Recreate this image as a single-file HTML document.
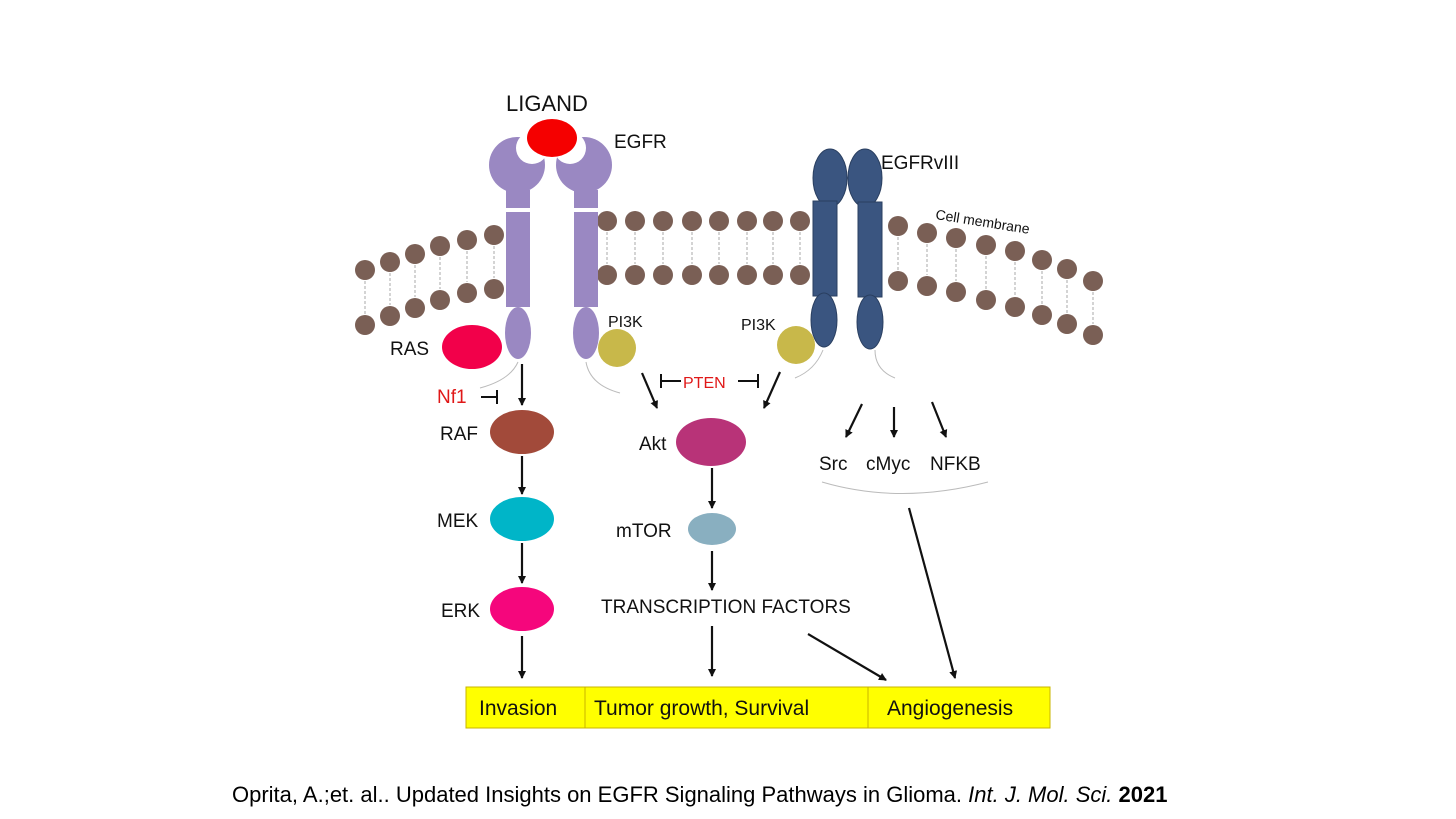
<!DOCTYPE html>
<html><head><meta charset="utf-8"><style>
html,body{margin:0;padding:0;background:#fff}
svg{display:block}
text{font-family:"Liberation Sans",Arial,sans-serif}
</style></head><body>
<svg width="1456" height="819" viewBox="0 0 1456 819" xmlns="http://www.w3.org/2000/svg">
<defs>
<marker id="ah" markerWidth="8" markerHeight="12" refX="7" refY="6" orient="auto" markerUnits="userSpaceOnUse">
<path d="M0,2 L8,6 L0,10 Z" fill="#111"/></marker>
</defs>
<g id="tails" stroke="#aaa" stroke-width="1" stroke-dasharray="3,2" fill="none">
<line x1="365" y1="281" x2="365" y2="314"/><line x1="390" y1="273" x2="390" y2="305"/><line x1="415" y1="265" x2="415" y2="297"/><line x1="440" y1="257" x2="440" y2="289"/><line x1="467" y1="251" x2="467" y2="282"/><line x1="494" y1="246" x2="494" y2="278"/>
<line x1="607" y1="232" x2="607" y2="264"/><line x1="635" y1="232" x2="635" y2="264"/><line x1="663" y1="232" x2="663" y2="264"/><line x1="692" y1="232" x2="692" y2="264"/><line x1="719" y1="232" x2="719" y2="264"/><line x1="747" y1="232" x2="747" y2="264"/><line x1="773" y1="232" x2="773" y2="264"/><line x1="800" y1="232" x2="800" y2="264"/>
<line x1="898" y1="237" x2="898" y2="270"/><line x1="927" y1="244" x2="927" y2="275"/><line x1="956" y1="249" x2="956" y2="281"/><line x1="986" y1="256" x2="986" y2="289"/><line x1="1015" y1="262" x2="1015" y2="296"/><line x1="1042" y1="271" x2="1042" y2="304"/><line x1="1067" y1="280" x2="1067" y2="313"/><line x1="1093" y1="292" x2="1093" y2="324"/>
</g>
<g fill="#7a5f55">
<circle cx="365" cy="270" r="10"/><circle cx="390" cy="262" r="10"/><circle cx="415" cy="254" r="10"/><circle cx="440" cy="246" r="10"/><circle cx="467" cy="240" r="10"/><circle cx="494" cy="235" r="10"/>
<circle cx="365" cy="325" r="10"/><circle cx="390" cy="316" r="10"/><circle cx="415" cy="308" r="10"/><circle cx="440" cy="300" r="10"/><circle cx="467" cy="293" r="10"/><circle cx="494" cy="289" r="10"/>
<circle cx="607" cy="221" r="10"/><circle cx="635" cy="221" r="10"/><circle cx="663" cy="221" r="10"/><circle cx="692" cy="221" r="10"/><circle cx="719" cy="221" r="10"/><circle cx="747" cy="221" r="10"/><circle cx="773" cy="221" r="10"/><circle cx="800" cy="221" r="10"/>
<circle cx="607" cy="275" r="10"/><circle cx="635" cy="275" r="10"/><circle cx="663" cy="275" r="10"/><circle cx="692" cy="275" r="10"/><circle cx="719" cy="275" r="10"/><circle cx="747" cy="275" r="10"/><circle cx="773" cy="275" r="10"/><circle cx="800" cy="275" r="10"/>
<circle cx="898" cy="226" r="10"/><circle cx="927" cy="233" r="10"/><circle cx="956" cy="238" r="10"/><circle cx="986" cy="245" r="10"/><circle cx="1015" cy="251" r="10"/><circle cx="1042" cy="260" r="10"/><circle cx="1067" cy="269" r="10"/><circle cx="1093" cy="281" r="10"/>
<circle cx="898" cy="281" r="10"/><circle cx="927" cy="286" r="10"/><circle cx="956" cy="292" r="10"/><circle cx="986" cy="300" r="10"/><circle cx="1015" cy="307" r="10"/><circle cx="1042" cy="315" r="10"/><circle cx="1067" cy="324" r="10"/><circle cx="1093" cy="335" r="10"/>
</g>
<!-- EGFR -->
<g fill="#9a88c2">
<circle cx="517" cy="165" r="28"/><circle cx="584" cy="165" r="28"/>
<rect x="506" y="190" width="24" height="18"/><rect x="574" y="190" width="24" height="18"/>
<rect x="506" y="212" width="24" height="95"/><rect x="574" y="212" width="24" height="95"/>
<ellipse cx="518" cy="333" rx="13" ry="26"/><ellipse cx="586" cy="333" rx="13" ry="26"/>
</g>
<circle cx="532" cy="148" r="16" fill="#fff"/><circle cx="570" cy="148" r="16" fill="#fff"/>
<ellipse cx="552" cy="138" rx="25" ry="19" fill="#f50000"/>
<!-- EGFRvIII -->
<g fill="#3a5580" stroke="#2a3f60" stroke-width="1">
<ellipse cx="830" cy="178" rx="17" ry="29"/><ellipse cx="865" cy="178" rx="17" ry="29"/>
<rect x="813" y="201" width="24" height="95"/><rect x="858" y="202" width="24" height="95"/>
<ellipse cx="824" cy="320" rx="13" ry="27"/><ellipse cx="870" cy="322" rx="13" ry="27"/>
</g>
<!-- thin grey curves -->
<g stroke="#bbb" fill="none" stroke-width="1">
<path d="M518,362 Q510,380 480,388"/><path d="M586,362 Q590,385 620,393"/>
<path d="M823,350 Q815,370 795,378"/><path d="M875,350 Q875,370 895,378"/>
<path d="M822,482 Q900,505 988,482"/>
</g>
<ellipse cx="472" cy="347" rx="30" ry="22" fill="#f2004a"/>
<circle cx="617" cy="348" r="19" fill="#c8b84a"/>
<circle cx="796" cy="345" r="19" fill="#c8b84a"/>
<ellipse cx="522" cy="432" rx="32" ry="22" fill="#a24a3a"/>
<ellipse cx="522" cy="519" rx="32" ry="22" fill="#00b5c8"/>
<ellipse cx="522" cy="609" rx="32" ry="22" fill="#f5067c"/>
<ellipse cx="711" cy="442" rx="35" ry="24" fill="#b83378"/>
<ellipse cx="712" cy="529" rx="24" ry="16" fill="#89afc0"/>
<!-- arrows -->
<g stroke="#111" stroke-width="2.2" marker-end="url(#ah)">
<line x1="522" y1="364" x2="522" y2="405"/>
<line x1="522" y1="456" x2="522" y2="494"/>
<line x1="522" y1="543" x2="522" y2="583"/>
<line x1="522" y1="636" x2="522" y2="678"/>
<line x1="642" y1="373" x2="657" y2="408"/>
<line x1="780" y1="372" x2="764" y2="408"/>
<line x1="712" y1="468" x2="712" y2="508"/>
<line x1="712" y1="551" x2="712" y2="590"/>
<line x1="712" y1="626" x2="712" y2="676"/>
<line x1="862" y1="404" x2="846" y2="437"/>
<line x1="894" y1="407" x2="894" y2="437"/>
<line x1="932" y1="402" x2="946" y2="437"/>
<line x1="909" y1="508" x2="955" y2="678"/>
<line x1="808" y1="634" x2="886" y2="680"/>
</g>
<g stroke="#111" stroke-width="2">
<line x1="481" y1="397" x2="497" y2="397"/><line x1="497" y1="390" x2="497" y2="404"/>
<line x1="661" y1="381" x2="681" y2="381"/><line x1="661" y1="374" x2="661" y2="388"/>
<line x1="738" y1="381" x2="758" y2="381"/><line x1="758" y1="374" x2="758" y2="388"/>
</g>
<!-- labels -->
<g font-size="19" fill="#111">
<text x="506" y="111" font-size="22">LIGAND</text>
<text x="614" y="148">EGFR</text>
<text x="881" y="169">EGFRvIII</text>
<text x="935" y="219" font-size="14" transform="rotate(9 935 219)">Cell membrane</text>
<text x="390" y="355">RAS</text>
<text x="608" y="327" font-size="16">PI3K</text>
<text x="741" y="330" font-size="16">PI3K</text>
<text x="437" y="403" fill="#e01818">Nf1</text>
<text x="683" y="388" font-size="16" fill="#e01818">PTEN</text>
<text x="440" y="440">RAF</text>
<text x="437" y="527">MEK</text>
<text x="441" y="617">ERK</text>
<text x="639" y="450">Akt</text>
<text x="616" y="537">mTOR</text>
<text x="601" y="613">TRANSCRIPTION FACTORS</text>
<text x="819" y="470">Src</text><text x="866" y="470">cMyc</text><text x="930" y="470">NFKB</text>
</g>
<rect x="466" y="687" width="584" height="41" fill="#ffff00" stroke="#c8b400" stroke-width="1"/>
<line x1="585" y1="687" x2="585" y2="728" stroke="#c8b400"/>
<line x1="868" y1="687" x2="868" y2="728" stroke="#c8b400"/>
<g font-size="21" fill="#111">
<text x="479" y="715">Invasion</text>
<text x="594" y="715">Tumor growth, Survival</text>
<text x="887" y="715">Angiogenesis</text>
</g>
<text x="232" y="802" font-size="22" fill="#000">Oprita, A.;et. al.. Updated Insights on EGFR Signaling Pathways in Glioma. <tspan font-style="italic">Int. J. Mol. Sci.</tspan> <tspan font-weight="bold">2021</tspan></text>
</svg>
</body></html>
